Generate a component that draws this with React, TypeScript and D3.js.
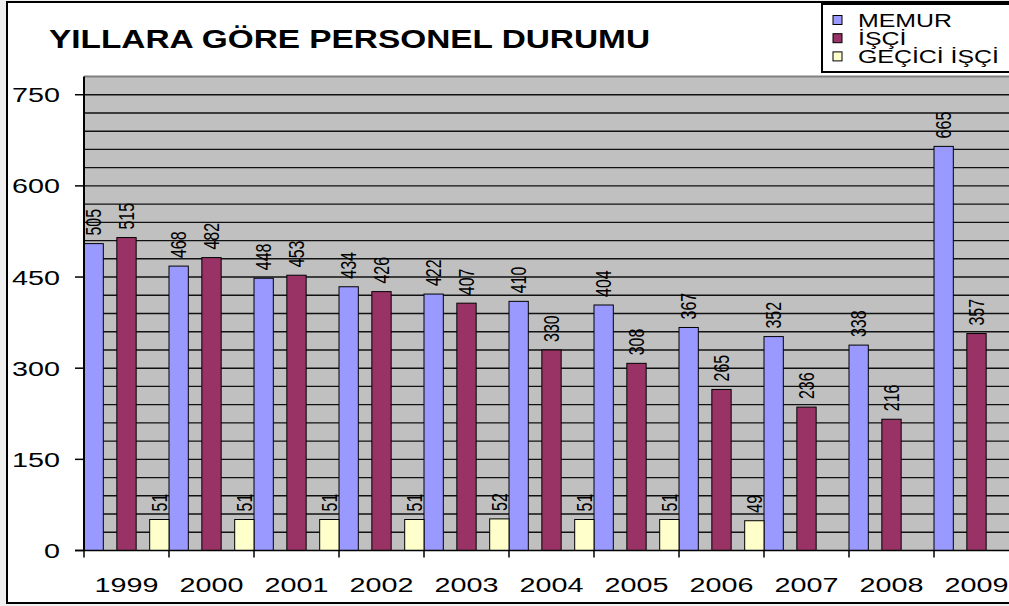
import React, { useEffect, useRef } from 'react';
import * as d3 from 'd3';

const years = ['1999', '2000', '2001', '2002', '2003', '2004', '2005', '2006', '2007', '2008', '2009'];
const memur = [505, 468, 448, 434, 422, 410, 404, 367, 352, 338, 665];
const isci = [515, 482, 453, 426, 407, 330, 308, 265, 236, 216, 357];
const geciciIsci: (number | null)[] = [51, 51, 51, 51, 52, 51, 51, 49, null, null, null];
const seriesNames = ['MEMUR', 'İŞÇİ', 'GEÇİCİ İŞÇİ'];
const seriesColors = ['#9999FF', '#993366', '#FFFFCC'];
const yTicks = [0, 150, 300, 450, 600, 750];

const W = 1009, H = 606;
const FONT = '"Liberation Sans", Arial, sans-serif';
const SX = 1.37; // the original picture is stretched sideways

export default function App() {
    const ref = useRef<SVGSVGElement>(null);

    useEffect(() => {
        const svg = d3.select(ref.current);
        svg.selectAll('*').remove();

        // page + chart frame
        svg.append('rect').attr('width', W).attr('height', H).attr('fill', '#f0f0f0');
        svg.append('rect').attr('x', 7).attr('y', 2).attr('width', W + 20).attr('height', 601)
            .attr('fill', '#fff').attr('stroke', '#000').attr('stroke-width', 2);

        const x = d3.scaleBand<string>().domain(years).range([84, 1019]).padding(0);
        const inner = d3.scaleBand<number>().domain([0, 1, 2]).range([0, x.bandwidth()])
            .paddingInner(0.412).paddingOuter(0);
        const y = d3.scaleLinear().domain([0, 780]).range([550.5, 76.5]);

        // plot area
        svg.append('rect').attr('x', 84).attr('y', y(780)).attr('width', 1019 - 84)
            .attr('height', y(0) - y(780)).attr('fill', '#C0C0C0');
        svg.append('line').attr('x1', 84).attr('x2', 1019).attr('y1', y(780)).attr('y2', y(780))
            .attr('stroke', '#808080').attr('stroke-width', 2);

        const grid = d3.range(30, 780, 30);
        svg.append('g').selectAll('line').data(grid).enter().append('line')
            .attr('x1', 84).attr('x2', 1019)
            .attr('y1', d => y(d)).attr('y2', d => y(d))
            .attr('stroke', '#111').attr('stroke-width', 1.4);

        // bars
        const series = [memur, isci, geciciIsci];
        series.forEach((vals, si) => {
            const g = svg.append('g');
            vals.forEach((v, i) => {
                if (v == null) return;
                const bx = (x(years[i]) as number) + (inner(si) as number);
                g.append('rect').attr('x', bx).attr('y', y(v))
                    .attr('width', inner.bandwidth()).attr('height', y(0) - y(v))
                    .attr('fill', seriesColors[si]).attr('stroke', '#000').attr('stroke-width', 1);
                g.append('text')
                    .attr('transform', `translate(${bx + inner.bandwidth() / 2},${y(v) - 8}) scale(${SX},1) rotate(-90)`)
                    .attr('dominant-baseline', 'central')
                    .attr('font-family', FONT).attr('font-size', 16).attr('fill', '#000')
                    .text(v);
            });
        });

        // axes
        svg.append('line').attr('x1', 84).attr('x2', 84).attr('y1', y(780)).attr('y2', y(0))
            .attr('stroke', '#000').attr('stroke-width', 2);
        svg.append('line').attr('x1', 75).attr('x2', 1019).attr('y1', y(0)).attr('y2', y(0))
            .attr('stroke', '#000').attr('stroke-width', 1.5);

        const yg = svg.append('g');
        yTicks.forEach(t => {
            yg.append('line').attr('x1', 75).attr('x2', 84).attr('y1', y(t)).attr('y2', y(t))
                .attr('stroke', '#000').attr('stroke-width', 1.5);
            yg.append('text')
                .attr('transform', `translate(60,${y(t) + 7.5}) scale(${SX},1)`)
                .attr('text-anchor', 'end').attr('font-family', FONT).attr('font-size', 21)
                .text(t);
        });

        const xg = svg.append('g');
        years.forEach(yr => {
            const x0 = x(yr) as number;
            xg.append('line').attr('x1', x0).attr('x2', x0).attr('y1', y(0)).attr('y2', y(0) + 7)
                .attr('stroke', '#000').attr('stroke-width', 1.5);
            xg.append('text')
                .attr('transform', `translate(${x0 + x.bandwidth() / 2},592) scale(${SX},1)`)
                .attr('text-anchor', 'middle').attr('font-family', FONT).attr('font-size', 21)
                .text(yr);
        });

        // title
        svg.append('text').attr('x', 49).attr('y', 48)
            .attr('font-family', FONT).attr('font-size', 26).attr('font-weight', 'bold')
            .attr('textLength', 601).attr('lengthAdjust', 'spacingAndGlyphs')
            .text('YILLARA GÖRE PERSONEL DURUMU');

        // legend
        const lg = svg.append('g');
        lg.append('rect').attr('x', 822).attr('y', 4).attr('width', 200).attr('height', 68)
            .attr('fill', '#fff').attr('stroke', '#000').attr('stroke-width', 2);
        seriesNames.forEach((name, i) => {
            const cy = 20 + i * 18.2;
            lg.append('rect').attr('x', 833).attr('y', cy - 4.5).attr('width', 9).attr('height', 9)
                .attr('fill', seriesColors[i]).attr('stroke', '#000').attr('stroke-width', 1);
            lg.append('text')
                .attr('transform', `translate(858,${cy + 7}) scale(1.31,1)`)
                .attr('font-family', FONT).attr('font-size', 19)
                .text(name);
        });
    }, []);

    return (
        <svg ref={ref} width={W} height={H}
            style={{ position: 'fixed', left: 0, top: 0, display: 'block' }} />
    );
}
